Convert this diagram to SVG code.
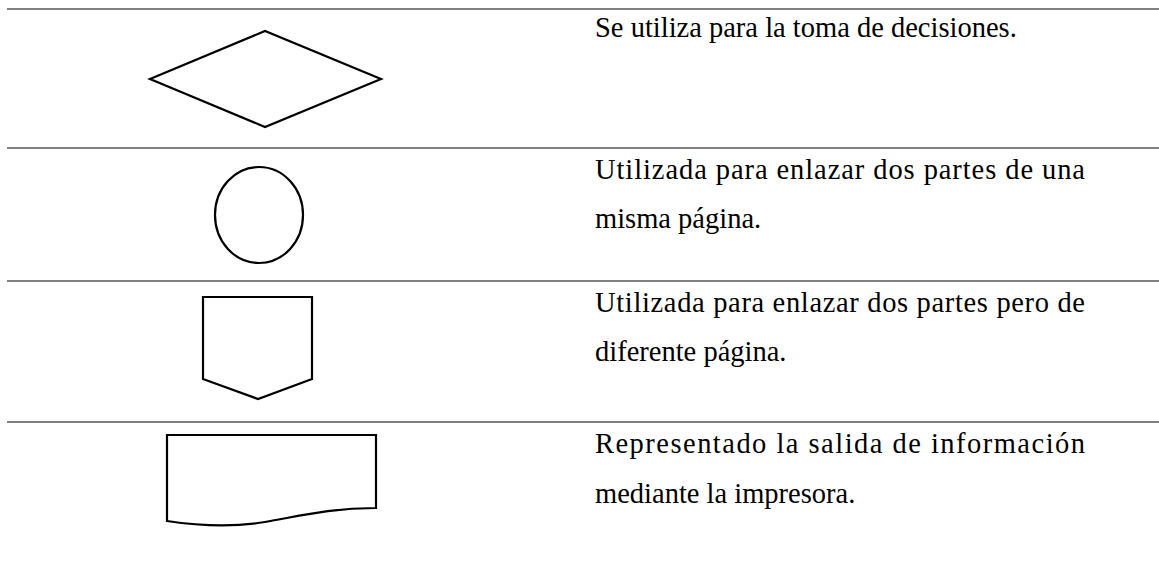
<svg xmlns="http://www.w3.org/2000/svg" width="1159" height="561" viewBox="0 0 1159 561">
<defs>
<style>
.sep{stroke:#808080;stroke-width:2;fill:none}
.shape{fill:#fff;stroke:#000;stroke-width:2.2}
</style>
</defs>
<rect width="1159" height="561" fill="#fff"/>
<text x="595" y="37" font-family="Liberation Serif" font-size="28.5">Se utiliza para la toma de decisiones.</text>
<text x="595" y="179" font-family="Liberation Serif" font-size="28.5" textLength="490" lengthAdjust="spacing">Utilizada para enlazar dos partes de una</text>
<text x="595" y="228" font-family="Liberation Serif" font-size="28.5">misma página.</text>
<text x="595" y="312" font-family="Liberation Serif" font-size="28.5" textLength="490" lengthAdjust="spacing">Utilizada para enlazar dos partes pero de</text>
<text x="595" y="361" font-family="Liberation Serif" font-size="28.5">diferente página.</text>
<text x="595" y="453" font-family="Liberation Serif" font-size="28.5" textLength="490" lengthAdjust="spacing">Representado la salida de información</text>
<text x="595" y="503" font-family="Liberation Serif" font-size="28.5">mediante la impresora.</text>
<g id="rules">
<line class="sep" x1="7" y1="9" x2="1159" y2="9"/>
<line class="sep" x1="7" y1="148" x2="1159" y2="148"/>
<line class="sep" x1="7" y1="281" x2="1159" y2="281"/>
<line class="sep" x1="7" y1="422" x2="1159" y2="422"/>
</g>
<g id="decision">
<polygon class="shape" points="150,79 265,31 381,79 265,127"/>
</g>
<g id="connector">
<ellipse class="shape" cx="259" cy="215" rx="44" ry="48"/>
</g>
<g id="offpage">
<polygon class="shape" points="203,297 312,297 312,379 258,399 203,379"/>
</g>
<g id="printer">
<path class="shape" d="M167,435 L376,435 L376,508 C330,508 300,516 265,522 C235,527 200,526 167,521 Z"/>
</g>
<g id="connectors"/>
</svg>
